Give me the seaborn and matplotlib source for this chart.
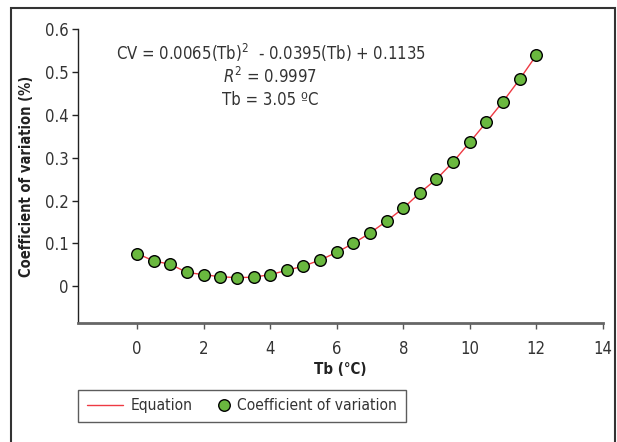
import matplotlib
matplotlib.use("Agg")
import matplotlib.pyplot as plt
import matplotlib.patches as mpatches
from matplotlib.lines import Line2D
from matplotlib.legend_handler import HandlerLine2D
import seaborn as sns
import pandas as pd

tb = [0, 0.5, 1, 1.5, 2, 2.5, 3, 3.5, 4, 4.5, 5, 5.5, 6, 6.5, 7, 7.5,
      8, 8.5, 9, 9.5, 10, 10.5, 11, 11.5, 12]
cv = [0.076, 0.059, 0.051, 0.032, 0.027, 0.022, 0.020, 0.021, 0.027, 0.037,
      0.047, 0.061, 0.079, 0.100, 0.124, 0.152, 0.182, 0.218, 0.250, 0.290,
      0.336, 0.383, 0.431, 0.483, 0.539]
eq_fit = cv  # fitted equation curve passes through the observed points
xticks = [0, 2, 4, 6, 8, 10, 12, 14]
yticks = [0, 0.1, 0.2, 0.3, 0.4, 0.5, 0.6]

sns.set_theme(style="white")
plt.rcParams['font.family'] = ['DejaVu Sans']
plt.rcParams['font.stretch'] = 'condensed'
plt.rcParams['mathtext.fontset'] = 'custom'
plt.rcParams['mathtext.rm'] = 'DejaVu Sans:stretch=condensed'
plt.rcParams['mathtext.it'] = 'DejaVu Sans:italic:stretch=condensed'

GREEN = "#6ab83f"
RED = "#ee3a43"

df = pd.DataFrame({"Tb": tb, "CV": cv, "EQ": eq_fit})

fig = plt.figure(figsize=(6.17, 4.42), dpi=100)
ax = fig.add_axes([78/617, 1-323/442, (602.7-78)/617, (323-29.3)/442])

sns.lineplot(data=df, x="Tb", y="EQ", ax=ax, color=RED, linewidth=1.0, zorder=2)
sns.scatterplot(data=df, x="Tb", y="CV", ax=ax, color=GREEN, edgecolor="black",
                linewidth=1.0, s=70, zorder=3)

ax.set_xlim(-1.78, 14)
ax.set_ylim(-0.086, 0.6)
ax.set_xticks(xticks)
ax.set_yticks(yticks)
ax.set_xticklabels([str(t) for t in xticks])
ax.set_yticklabels(["0" if t == 0 else f"{t:.1f}" for t in yticks])
ax.tick_params(axis="both", labelsize=12, colors="#333333", length=4, width=1,
               direction="out", bottom=True, left=True)
ax.tick_params(axis="x", pad=8, color="#555555")
ax.tick_params(axis="y", pad=3, color="#222222")
for s in ["top", "right"]:
    ax.spines[s].set_visible(False)
ax.spines["left"].set_color("#222222")
ax.spines["left"].set_linewidth(1.0)
ax.spines["bottom"].set_color("#666666")
ax.spines["bottom"].set_linewidth(2.0)

ax.set_xlabel("Tb (°C)", fontsize=10.8, fontweight="bold", color="#222222", labelpad=3)
ax.set_ylabel("Coefficient of variation (%)", fontsize=10.5, fontweight="bold",
              color="#222222")
ax.yaxis.set_label_coords(-(78-34)/(602.7-78), 0.5)

txt_kw = dict(transform=fig.transFigure, ha="center", va="center", fontsize=12, color="#333333")
fig.text(271/617, 1-53/442, "CV = 0.0065(Tb)$^{2}$  - 0.0395(Tb) + 0.1135", **txt_kw)
fig.text(270/617, 1-77/442, "$\\mathit{R}^{2}$ = 0.9997", **txt_kw)
fig.text(270/617, 1-100/442, "Tb = 3.05 ºC", **txt_kw)


class MarkerRightHandler(HandlerLine2D):
    def create_artists(self, legend, orig_handle, xdescent, ydescent, width,
                       height, fontsize, trans):
        m = Line2D([width - xdescent - 3.6], [(height - ydescent) / 2],
                   marker="o", ls="none", markerfacecolor=GREEN,
                   markeredgecolor="black", markersize=8.3, markeredgewidth=1.0)
        m.set_transform(trans)
        return [m]


h_line = Line2D([0], [0], color=RED, lw=1.0)
h_mark = Line2D([0], [0], marker="o", ls="none", markerfacecolor=GREEN,
                markeredgecolor="black", markersize=8.3)
leg = fig.legend([h_line, h_mark], ["Equation", "Coefficient of variation"], ncol=2,
                 loc="lower left", bbox_to_anchor=(78/617, 1-422/442),
                 borderaxespad=0, frameon=True, fancybox=False, fontsize=11.2,
                 handlelength=2.35, columnspacing=0.0, borderpad=0.55,
                 handletextpad=0.5, handler_map={h_mark: MarkerRightHandler()})
leg.get_frame().set_edgecolor("#333333")
leg.get_frame().set_linewidth(1.0)
for t in leg.get_texts():
    t.set_color("#333333")

border = mpatches.Rectangle((11/617, -0.05), (615-11)/617, 1.05 - 8/442,
                            transform=fig.transFigure, fill=False,
                            edgecolor="#333333", linewidth=1.5)
fig.patches.append(border)

fig.savefig("out.png", dpi=100)
